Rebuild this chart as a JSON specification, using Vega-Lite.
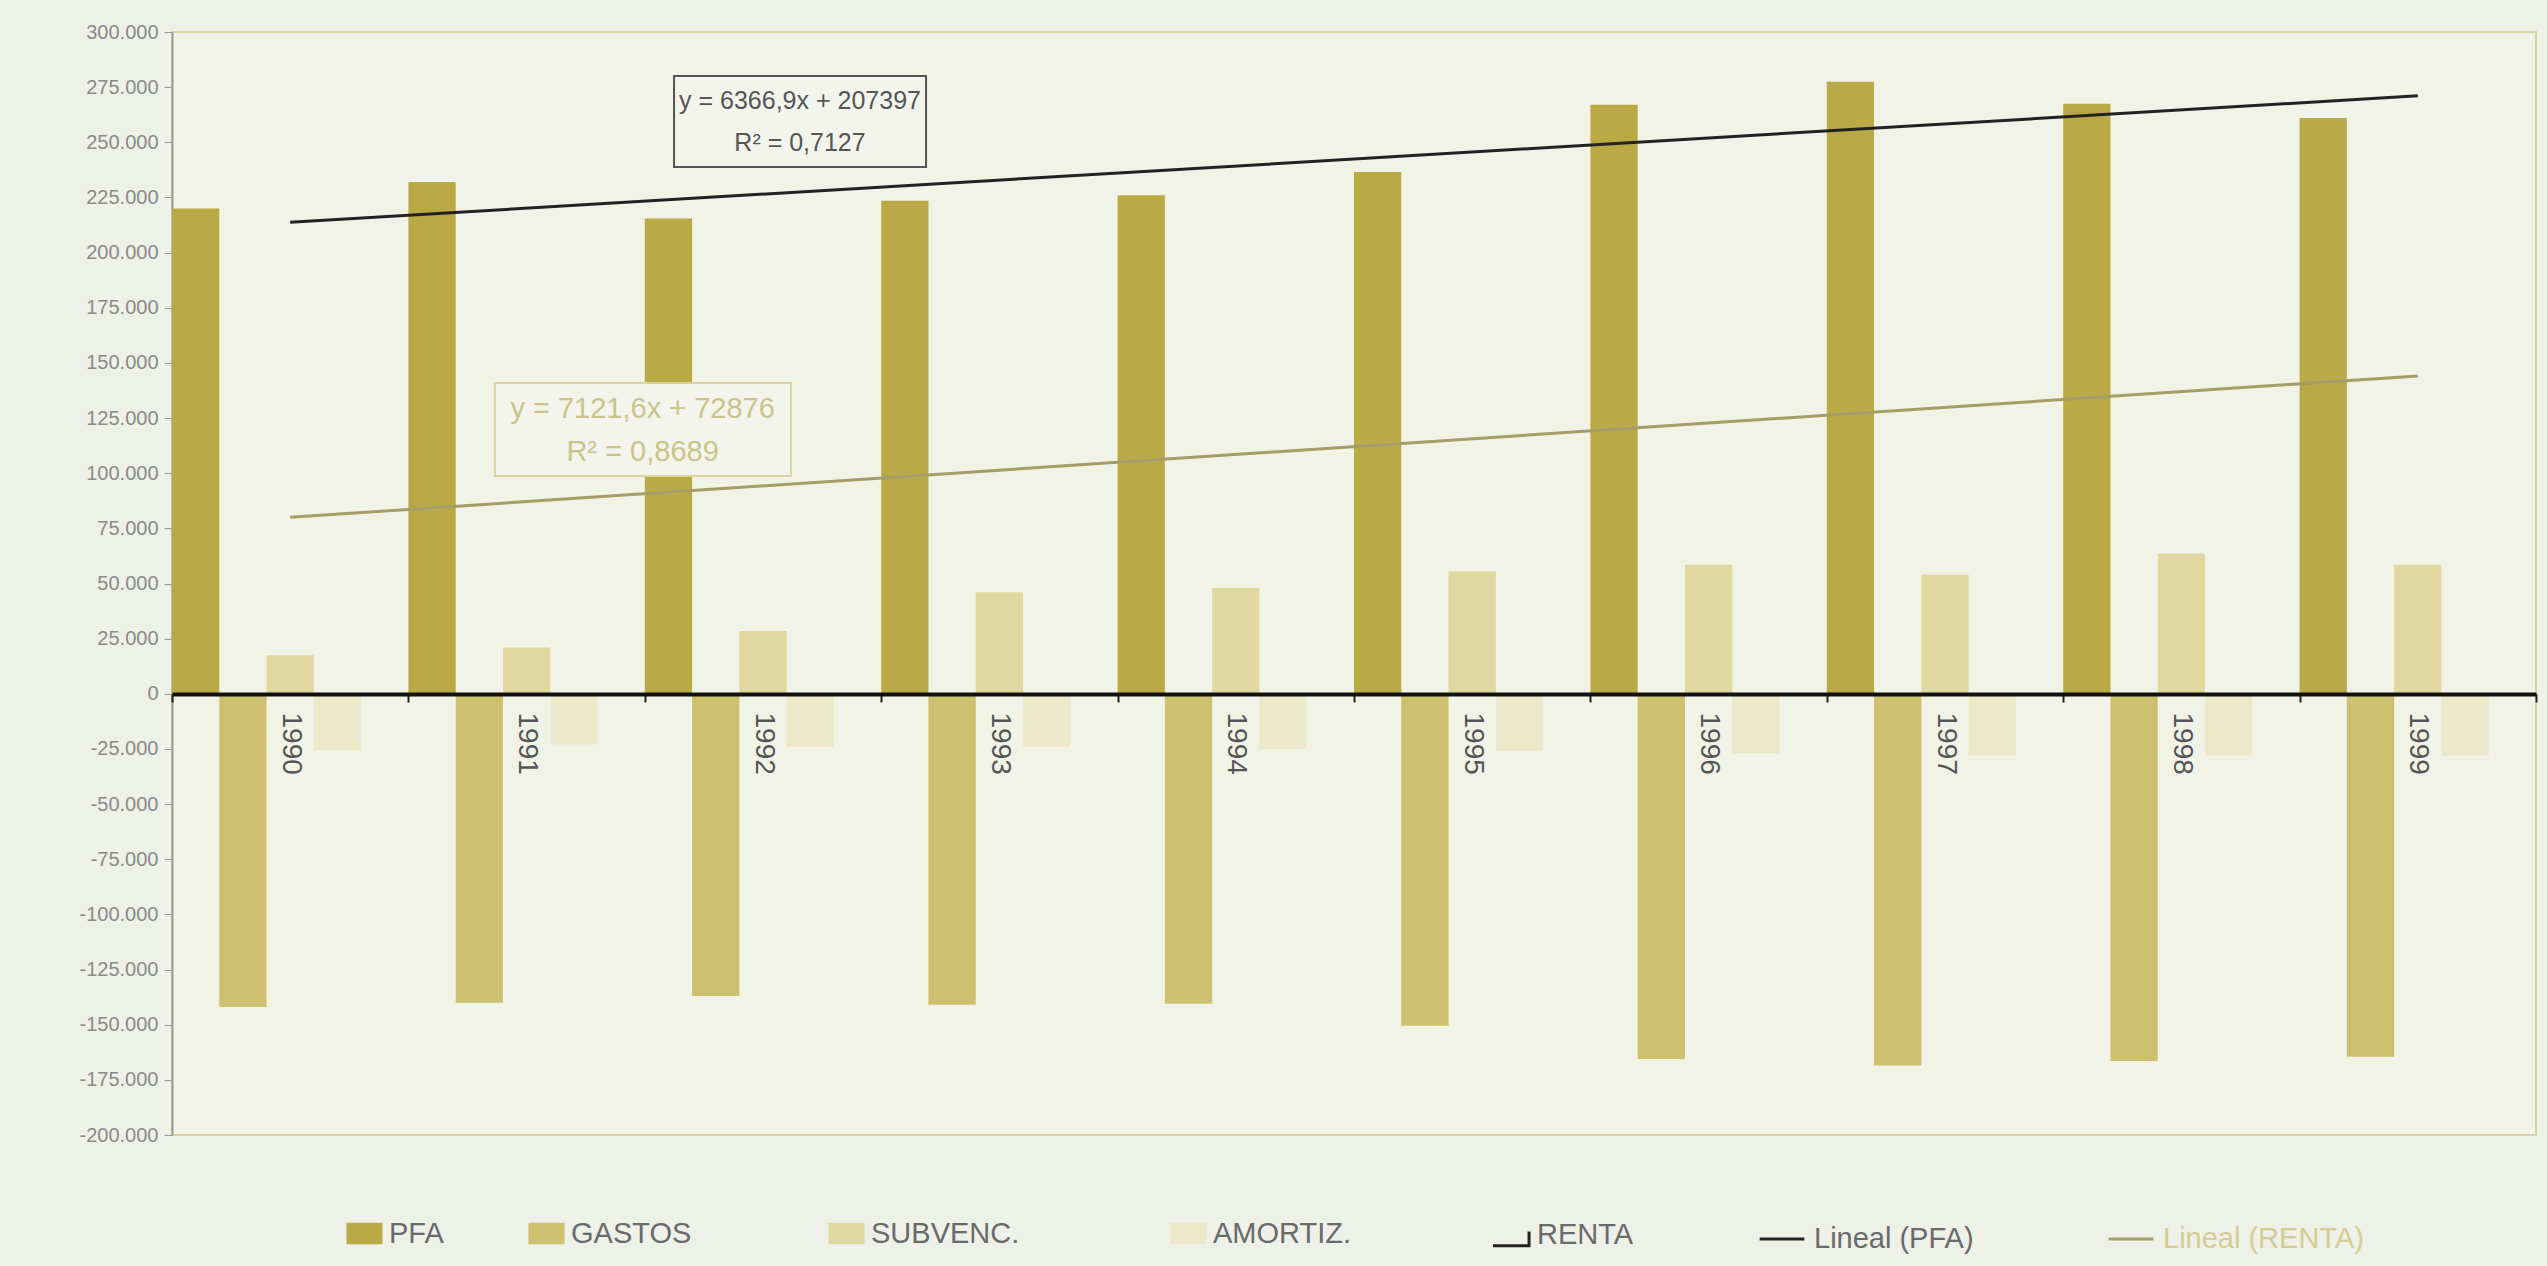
{
  "$schema": "https://vega.github.io/schema/vega-lite/v6.json",
  "width": 2364,
  "height": 1103,
  "autosize": {"type": "none"},
  "padding": {"left": 172, "top": 32, "right": 11, "bottom": 131},
  "background": "#EEF1E8",
  "config": {
    "locale": {"number": {"decimal": ",", "thousands": ".", "grouping": [3], "currency": ["", " €"], "minus": "-"}},
    "view": {"fill": "#F1F3E7", "stroke": "#D8D4A4", "strokeWidth": 2},
    "font": "Liberation Sans",
    "legend": {
      "orient": "none",
      "direction": "horizontal",
      "padding": 0,
      "labelFont": "Liberation Sans",
      "labelFontSize": 29,
      "labelColor": "#6a6a6a",
      "labelOffset": 6,
      "labelLimit": 600,
      "symbolSize": 1300,
      "symbolStrokeWidth": 0,
      "symbolType": "M-1,-0.6L1,-0.6L1,0.6L-1,0.6Z"
    }
  },
  "resolve": {
    "scale": {"fill": "independent", "stroke": "independent"},
    "legend": {"fill": "independent", "stroke": "independent"}
  },
  "datasets": {
    "barras": [
      {"anio": "1990", "serie": "PFA", "valor": 220000},
      {"anio": "1991", "serie": "PFA", "valor": 232000},
      {"anio": "1992", "serie": "PFA", "valor": 215500},
      {"anio": "1993", "serie": "PFA", "valor": 223500},
      {"anio": "1994", "serie": "PFA", "valor": 226000},
      {"anio": "1995", "serie": "PFA", "valor": 236500},
      {"anio": "1996", "serie": "PFA", "valor": 267000},
      {"anio": "1997", "serie": "PFA", "valor": 277500},
      {"anio": "1998", "serie": "PFA", "valor": 267500},
      {"anio": "1999", "serie": "PFA", "valor": 261000},
      {"anio": "1990", "serie": "GASTOS", "valor": -142000},
      {"anio": "1991", "serie": "GASTOS", "valor": -140000},
      {"anio": "1992", "serie": "GASTOS", "valor": -137000},
      {"anio": "1993", "serie": "GASTOS", "valor": -141000},
      {"anio": "1994", "serie": "GASTOS", "valor": -140500},
      {"anio": "1995", "serie": "GASTOS", "valor": -150500},
      {"anio": "1996", "serie": "GASTOS", "valor": -165500},
      {"anio": "1997", "serie": "GASTOS", "valor": -168500},
      {"anio": "1998", "serie": "GASTOS", "valor": -166500},
      {"anio": "1999", "serie": "GASTOS", "valor": -164500},
      {"anio": "1990", "serie": "SUBVENC.", "valor": 17500},
      {"anio": "1991", "serie": "SUBVENC.", "valor": 21000},
      {"anio": "1992", "serie": "SUBVENC.", "valor": 28500},
      {"anio": "1993", "serie": "SUBVENC.", "valor": 46000},
      {"anio": "1994", "serie": "SUBVENC.", "valor": 48000},
      {"anio": "1995", "serie": "SUBVENC.", "valor": 55500},
      {"anio": "1996", "serie": "SUBVENC.", "valor": 58500},
      {"anio": "1997", "serie": "SUBVENC.", "valor": 54000},
      {"anio": "1998", "serie": "SUBVENC.", "valor": 63500},
      {"anio": "1999", "serie": "SUBVENC.", "valor": 58500},
      {"anio": "1990", "serie": "AMORTIZ.", "valor": -25500},
      {"anio": "1991", "serie": "AMORTIZ.", "valor": -23000},
      {"anio": "1992", "serie": "AMORTIZ.", "valor": -24000},
      {"anio": "1993", "serie": "AMORTIZ.", "valor": -24000},
      {"anio": "1994", "serie": "AMORTIZ.", "valor": -25000},
      {"anio": "1995", "serie": "AMORTIZ.", "valor": -26000},
      {"anio": "1996", "serie": "AMORTIZ.", "valor": -27000},
      {"anio": "1997", "serie": "AMORTIZ.", "valor": -28000},
      {"anio": "1998", "serie": "AMORTIZ.", "valor": -28000},
      {"anio": "1999", "serie": "AMORTIZ.", "valor": -28000},
      {"anio": "1990", "serie": "RENTA", "valor": 70000},
      {"anio": "1991", "serie": "RENTA", "valor": 90000},
      {"anio": "1992", "serie": "RENTA", "valor": 83000},
      {"anio": "1993", "serie": "RENTA", "valor": 104500},
      {"anio": "1994", "serie": "RENTA", "valor": 108500},
      {"anio": "1995", "serie": "RENTA", "valor": 115500},
      {"anio": "1996", "serie": "RENTA", "valor": 133000},
      {"anio": "1997", "serie": "RENTA", "valor": 135000},
      {"anio": "1998", "serie": "RENTA", "valor": 136500},
      {"anio": "1999", "serie": "RENTA", "valor": 127000}
    ],
    "tendencias": [
      {"anio": "1990", "tendencia": "Lineal (PFA)", "valor": 213764},
      {"anio": "1999", "tendencia": "Lineal (PFA)", "valor": 271066},
      {"anio": "1990", "tendencia": "Lineal (RENTA)", "valor": 79998},
      {"anio": "1999", "tendencia": "Lineal (RENTA)", "valor": 144092}
    ],
    "ecuaciones": [
      {"anio": "1992", "tendencia": "Lineal (PFA)", "valor": 259400, "texto": "y = 6366,9x + 207397\nR² = 0,7127"},
      {"anio": "1991", "tendencia": "Lineal (RENTA)", "valor": 119800, "texto": "y = 7121,6x + 72876\nR² = 0,8689"}
    ]
  },
  "encoding": {
    "x": {
      "field": "anio",
      "type": "nominal",
      "scale": {"paddingInner": 0, "paddingOuter": 0},
      "axis": {
        "title": null,
        "offset": -441,
        "zindex": 1,
        "domainColor": "#111111",
        "domainWidth": 4,
        "tickBand": "extent",
        "tickColor": "#222222",
        "tickSize": 8,
        "tickWidth": 2,
        "labelAngle": 90,
        "labelFontSize": 28,
        "labelColor": "#555555",
        "labelPadding": 10
      }
    },
    "y": {
      "field": "valor",
      "type": "quantitative",
      "scale": {"domain": [-200000, 300000], "nice": false, "zero": false},
      "axis": {
        "title": null,
        "grid": false,
        "values": [-200000, -175000, -150000, -125000, -100000, -75000, -50000, -25000, 0, 25000, 50000, 75000, 100000, 125000, 150000, 175000, 200000, 225000, 250000, 275000, 300000],
        "format": ",.0f",
        "labelFontSize": 20,
        "labelColor": "#8a8a8a",
        "labelPadding": 6,
        "tickColor": "#9a9a9a",
        "tickSize": 8,
        "domainColor": "#9a9a9a",
        "domainWidth": 2
      }
    },
    "xOffset": {
      "field": "serie",
      "type": "nominal",
      "scale": {"domain": ["PFA", "GASTOS", "SUBVENC.", "AMORTIZ.", "RENTA"], "paddingInner": 0, "paddingOuter": 0}
    }
  },
  "layer": [
    {
      "data": {"name": "barras"},
      "transform": [{"filter": "datum.serie === 'PFA'"}],
      "mark": {"type": "bar"},
      "encoding": {
        "fill": {
          "field": "serie", "type": "nominal",
          "scale": {"domain": ["PFA"], "range": ["#B9AA46"]},
          "legend": {"title": null, "legendX": 174, "legendY": 1183}
        }
      }
    },
    {
      "data": {"name": "barras"},
      "transform": [{"filter": "datum.serie === 'GASTOS'"}],
      "mark": {"type": "bar"},
      "encoding": {
        "fill": {
          "field": "serie", "type": "nominal",
          "scale": {"domain": ["GASTOS"], "range": ["#CDC06E"]},
          "legend": {"title": null, "legendX": 356, "legendY": 1183}
        }
      }
    },
    {
      "data": {"name": "barras"},
      "transform": [{"filter": "datum.serie === 'SUBVENC.'"}],
      "mark": {"type": "bar"},
      "encoding": {
        "fill": {
          "field": "serie", "type": "nominal",
          "scale": {"domain": ["SUBVENC."], "range": ["#E0D89E"]},
          "legend": {"title": null, "legendX": 656, "legendY": 1183}
        }
      }
    },
    {
      "data": {"name": "barras"},
      "transform": [{"filter": "datum.serie === 'AMORTIZ.'"}],
      "mark": {"type": "bar"},
      "encoding": {
        "fill": {
          "field": "serie", "type": "nominal",
          "scale": {"domain": ["AMORTIZ."], "range": ["#ECE9CB"]},
          "legend": {"title": null, "legendX": 998, "legendY": 1183}
        }
      }
    },
    {
      "data": {"name": "barras"},
      "transform": [{"filter": "datum.serie === 'RENTA'"}],
      "mark": {"type": "bar"},
      "encoding": {
        "fill": {
          "field": "serie", "type": "nominal",
          "scale": {"domain": ["RENTA"], "range": ["transparent"]},
          "legend": {
            "title": null, "legendX": 1319, "legendY": 1183,
            "symbolType": "M-1,0.6L1,0.6L1,-0.2",
            "symbolStrokeColor": "#222222",
            "symbolStrokeWidth": 3
          }
        }
      }
    },
    {
      "data": {"name": "tendencias"},
      "transform": [{"filter": "datum.tendencia === 'Lineal (PFA)'"}],
      "mark": {"type": "line", "strokeWidth": 3},
      "encoding": {
        "xOffset": null,
        "stroke": {
          "field": "tendencia", "type": "nominal",
          "scale": {"domain": ["Lineal (PFA)"], "range": ["#222222"]},
          "legend": {"title": null, "legendX": 1586, "legendY": 1183, "symbolType": "stroke", "symbolSize": 2000, "symbolStrokeWidth": 3, "labelOffset": 8}
        }
      }
    },
    {
      "data": {"name": "tendencias"},
      "transform": [{"filter": "datum.tendencia === 'Lineal (RENTA)'"}],
      "mark": {"type": "line", "strokeWidth": 3},
      "encoding": {
        "xOffset": null,
        "stroke": {
          "field": "tendencia", "type": "nominal",
          "scale": {"domain": ["Lineal (RENTA)"], "range": ["#A39D66"]},
          "legend": {"title": null, "legendX": 1935, "legendY": 1183, "symbolType": "stroke", "symbolSize": 2000, "symbolStrokeWidth": 3, "labelOffset": 8, "labelColor": "#D3CD95"}
        }
      }
    },
    {
      "data": {"name": "ecuaciones"},
      "transform": [{"filter": "datum.tendencia === 'Lineal (PFA)'"}],
      "mark": {
        "type": "point",
        "filled": true,
        "opacity": 1,
        "fill": "#F3F5EC",
        "stroke": "#555555",
        "strokeWidth": 2,
        "shape": "M-0.706,-0.361L1.294,-0.361L1.294,0.361L-0.706,0.361Z",
        "size": 63504
      },
      "encoding": {"xOffset": null}
    },
    {
      "data": {"name": "ecuaciones"},
      "transform": [{"filter": "datum.tendencia === 'Lineal (RENTA)'"}],
      "mark": {
        "type": "point",
        "filled": true,
        "opacity": 1,
        "fill": "#F3F5EC",
        "stroke": "#D9D4A0",
        "strokeWidth": 2,
        "shape": "M-0.214,-0.314L1.786,-0.314L1.786,0.314L-0.214,0.314Z",
        "size": 87616
      },
      "encoding": {"xOffset": null}
    },
    {
      "data": {"name": "ecuaciones"},
      "transform": [{"filter": "datum.tendencia === 'Lineal (PFA)'"}],
      "mark": {"type": "text", "align": "center", "baseline": "middle", "fontSize": 25, "lineHeight": 42, "lineBreak": "\n", "dx": 37, "dy": -21, "color": "#555555"},
      "encoding": {"xOffset": null, "text": {"field": "texto", "type": "nominal"}}
    },
    {
      "data": {"name": "ecuaciones"},
      "transform": [{"filter": "datum.tendencia === 'Lineal (RENTA)'"}],
      "mark": {"type": "text", "align": "center", "baseline": "middle", "fontSize": 29, "lineHeight": 43, "lineBreak": "\n", "dx": 116, "dy": -21, "color": "#C9C48A"},
      "encoding": {"xOffset": null, "text": {"field": "texto", "type": "nominal"}}
    }
  ]
}
